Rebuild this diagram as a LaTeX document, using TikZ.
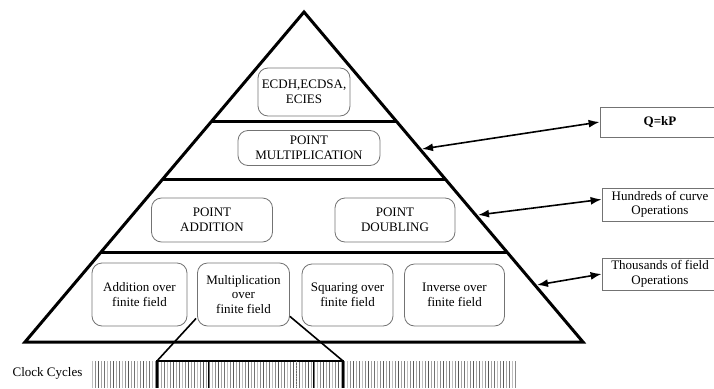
\documentclass[tikz,border=0pt]{standalone}
\usepackage{fontspec}
\setmainfont{Liberation Serif}
\usetikzlibrary{calc,arrows.meta}
\tikzset{
  layerbox/.style={draw=black!55, line width=0.8pt, rounded corners=10pt, align=center, inner sep=0pt},
  costbox/.style={draw=black!55, line width=0.8pt, align=center, inner sep=1pt},
  costarrow/.style={line width=1.6pt, {Latex[length=11pt,width=8pt]}-{Latex[length=11pt,width=8pt]}},
}

\begin{document}
\begin{tikzpicture}[x=1pt, y=-1pt, font=\fontsize{13}{14.5}\selectfont]
			%%%%% START %%%%%
			\useasboundingbox (0,0) rectangle (714,388);
			
			% pyramid and layers
			\coordinate (apex) at (304,12);
			\coordinate (bl) at (25,342);
			\coordinate (br) at (583,342);
			\draw[line width=3pt, line join=miter] (bl) -- (apex) -- (br) -- cycle;
			\draw[line width=3pt] (212,121) -- (396,121);
			\draw[line width=3pt] (163,179) -- (445,179);
			\draw[line width=3pt] (101,252) -- (507,252);
			
			\node[layerbox, minimum width=92, minimum height=48] (ecdh) at (304,92) {ECDH,ECDSA,\\ECIES};
			\node[layerbox, minimum width=142, minimum height=35] (pmul) at (309,148) {POINT\\MULTIPLICATION};
			\node[layerbox, minimum width=121, minimum height=44] (padd) at (212,220) {POINT\\ADDITION};
			\node[layerbox, minimum width=120, minimum height=44] (pdbl) at (395,220) {POINT\\DOUBLING};
			
			\node[layerbox, minimum width=95, minimum height=63] (fadd) at (139.5,294.5) {Addition over\\finite field};
			\node[layerbox, minimum width=92, minimum height=63] (fmul) at (243.5,294.5) {Multiplication\\over\\finite field};
			\node[layerbox, minimum width=91, minimum height=62] (fsqr) at (347.5,295) {Squaring over\\finite field};
			\node[layerbox, minimum width=100, minimum height=62] (finv) at (454.5,295) {Inverse over\\finite field};
			
			% cost boxes on the right (cut by the page edge)
			\node[costbox, minimum width=120, minimum height=30] (qkp) at (660,122) {\textbf{Q=kP}};
			\node[costbox, minimum width=116, minimum height=33] (hund) at (660,204.5) {Hundreds of curve\\Operations};
			\node[costbox, minimum width=116, minimum height=32] (thou) at (660,274) {Thousands of field\\Operations};
			
			\coordinate (e1) at (422,149);
			\coordinate (e2) at (478,215);
			\coordinate (e3) at (537,285);
			\draw[costarrow] (e1) -- (qkp.west);
			\draw[costarrow] (e2) -- (hund.175);
			\draw[costarrow] (e3) -- (thou.west);
			
			% clock cycles
			\node (clk) at (47.5,373) {Clock Cycles};
			\foreach \i in {0,...,141} {
				\pgfmathtruncatemacro{\shade}{mod(\i*7,5)*10+25}
				\draw[line width=0.9pt, color=black!\shade] ({92+3*\i},361) -- ({92+3*\i},388);
			}
			
			\coordinate (zl) at (157,361);
			\coordinate (zr) at (343,361);
			\draw[line width=2pt] (157,388) -- (zl) -- (zr) -- (343,388);
			\draw[line width=1pt] (208,361) -- (208,388);
			\draw[line width=1pt] (313,361) -- (313,388);
			\draw[line width=0.6pt, densely dotted, black!60] (296,361) -- (296,388);
			
			\draw[line width=1.6pt] ($(fmul.south west)+(-1,-8)$) -- (zl);
			\draw[line width=1.6pt] ($(fmul.south east)+(0,-10)$) -- (zr);
			
			%%%%% END %%%%%
		\end{tikzpicture}
\end{document}
